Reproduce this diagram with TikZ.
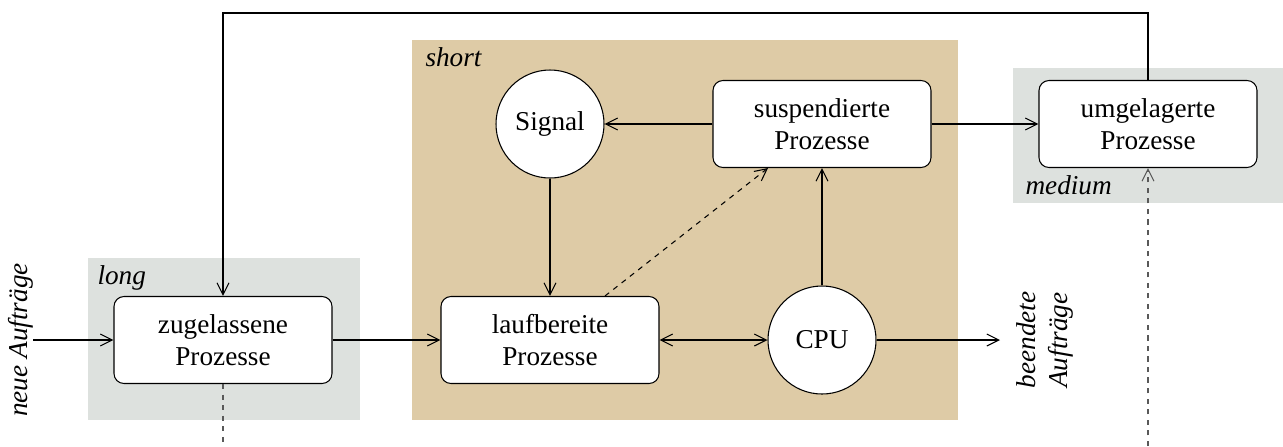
\documentclass[tikz,border=0pt]{standalone}
\usepackage{fontspec}
\setmainfont{Liberation Serif}
\usetikzlibrary{arrows.meta}
\definecolor{tanbg}{RGB}{222,203,166}
\definecolor{graybg}{RGB}{221,225,222}

\begin{document}
\begin{tikzpicture}[x=0.2mm, y=-0.2mm, line width=0.6pt,
		font=\fontsize{15.5}{18}\selectfont,
		>={Straight Barb[length=2.4mm,width=2.4mm]},
		proc/.style={draw, fill=white, rounded corners=2mm, align=center,
			minimum width=43.6mm, minimum height=17.4mm, inner sep=0pt},
		res/.style={draw, fill=white, circle, minimum size=21.6mm, inner sep=0pt},
		zone/.style={anchor=west, inner sep=0pt, font=\fontsize{15.5}{18}\selectfont\itshape},
		hint/.style={dashed, gray!70!black}]
		\useasboundingbox (0,0) rectangle (1283,446);
		% Hintergruende der drei Planungsstufen
		\fill[tanbg] (412,40) rectangle (958,420);
		\fill[graybg] (88,258) rectangle (360,420);
		\fill[graybg] (1013,68) rectangle (1283,203);
		\node[zone] (short) at (425,57) {short};
		\node[zone] (long) at (97,278) {long};
		\node[zone] (medium) at (1025,185) {medium};
		% Zustaende
		\node[proc] (zug) at (223,340) {zugelassene\\Prozesse};
		\node[proc] (lauf) at (550,340) {laufbereite\\Prozesse};
		\node[proc] (susp) at (822,124) {suspendierte\\Prozesse};
		\node[proc] (umg) at (1148,124) {umgelagerte\\Prozesse};
		\node[res] (sig) at (550,124) {Signal};
		\node[res] (cpu) at (822,340) {CPU};
		% Ein- und Ausgang
		\node[rotate=90, font=\fontsize{15.5}{18}\selectfont\itshape]
			(neu) at (21,340) {neue Aufträge};
		\node[rotate=90, align=center, font=\fontsize{15.5}{18}\selectfont\itshape]
			(fertig) at (1045,340) {beendete\\Aufträge};
		\coordinate (ein) at (33,340);
		\coordinate (aus) at (1000,340);
		\coordinate (ret) at (223,13);
		\coordinate (ab) at (223,446);
		\coordinate (auf) at (1148,446);
		% Uebergaenge
		\draw[->] (ein) -- (zug.west);
		\draw[->] (zug.east) -- (lauf.west);
		\draw[<->] (lauf.east) -- (cpu.west);
		\draw[->] (cpu.east) -- (aus);
		\draw[->] (cpu.north) -- (susp.south);
		\draw[->] (susp.west) -- (sig.east);
		\draw[->] (sig.south) -- (lauf.north);
		\draw[->] (susp.east) -- (umg.west);
		\draw[->] (umg.north) |- (ret) -- (zug.north);
		\draw[dashed, ->] ([xshift=11mm]lauf.north) -- ([xshift=-10.8mm]susp.south);
		\draw[hint] (zug.south) -- (ab);
		\draw[hint, ->] (auf) -- (umg.south);
	\end{tikzpicture}
\end{document}
